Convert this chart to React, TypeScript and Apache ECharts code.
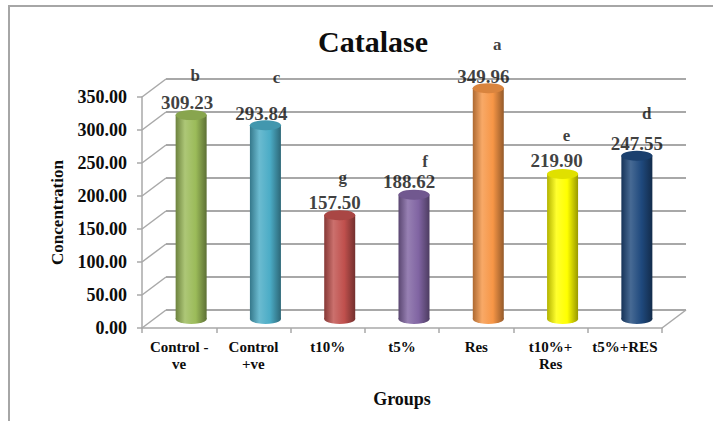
import React, { useEffect, useRef } from "react";
import * as echarts from "echarts";

const categories = ["Control -\nve", "Control\n+ve", "t10%", "t5%", "Res", "t10%+\nRes", "t5%+RES"];
const values = [309.23, 293.84, 157.5, 188.62, 349.96, 219.9, 247.55];
const sigLetters = ["b", "c", "g", "f", "a", "e", "d"];
const yTicks = [0, 50, 100, 150, 200, 250, 300, 350];
const barColors = ["#9BBB59", "#4BACC6", "#C0504D", "#8064A2", "#F79646", "#FFFF00", "#1F497D"];

// styling offsets (pixels) for annotation texts
const letterOffsets = [[4, -39], [11, -48], [3, -38], [11, -33], [9, -44], [4, -38], [10, -42]];
const valueOffsets = [[-4, -12], [-4, -12], [-5, -13], [-5, -13], [-5, -12], [-6, -13], [0, -12]];

const FONT = "'Liberation Serif', 'Times New Roman', serif";
const GRID_COLOR = "#A8A8A8";
const DEPTH_X = 24;
const DEPTH_Y = 18;

function shade(hex: string, amt: number): string {
  const n = parseInt(hex.slice(1), 16);
  let r = (n >> 16) & 255, g = (n >> 8) & 255, b = n & 255;
  const f = (c: number) => (amt >= 0 ? Math.round(c + (255 - c) * amt) : Math.round(c * (1 + amt)));
  r = f(r); g = f(g); b = f(b);
  return "#" + ((1 << 24) | (r << 16) | (g << 8) | b).toString(16).slice(1);
}

function cyl(c: string) {
  return new echarts.graphic.LinearGradient(0, 0, 1, 0, [
    { offset: 0, color: shade(c, -0.3) },
    { offset: 0.3, color: shade(c, 0.18) },
    { offset: 0.65, color: c },
    { offset: 1, color: shade(c, -0.4) },
  ]);
}

export default function App() {
  const ref = useRef<HTMLDivElement>(null);
  useEffect(() => {
    if (!ref.current) return;
    const chart = echarts.init(ref.current, undefined, { renderer: "svg" });
    const textBase = { fontFamily: FONT, fontWeight: "bold" as const, color: "#0d0d0d" };
    const option: any = {
      animation: false,
      backgroundColor: "#ffffff",
      title: {
        text: "Catalase",
        left: 368,
        top: 21,
        textAlign: "center",
        textStyle: { ...textBase, fontSize: 30 },
      },
      graphic: [
        {
          type: "rect",
          silent: true,
          shape: { x: 9, y: 6, width: 720, height: 430 },
          style: { fill: "none", stroke: "#A6A6A6", lineWidth: 2 },
        },
      ],
      grid: [
        { left: 142, top: 97, width: 520, height: 231 }, // front
        { left: 154, top: 88, width: 520, height: 231 }, // middle (bars)
        { left: 166, top: 79, width: 520, height: 231 }, // back wall
      ],
      xAxis: [
        {
          type: "category",
          gridIndex: 0,
          data: categories,
          axisLine: { show: true, lineStyle: { color: GRID_COLOR, width: 1.5 } },
          axisTick: { show: true, length: 5, lineStyle: { color: GRID_COLOR, width: 1.5 } },
          axisLabel: { ...textBase, fontSize: 15, lineHeight: 17, margin: 10, interval: 0 },
          name: "Groups",
          nameLocation: "middle",
          nameGap: 62,
          nameTextStyle: { ...textBase, fontSize: 18 },
        },
        { type: "category", gridIndex: 1, data: categories, show: false },
        { type: "category", gridIndex: 2, data: categories, show: false },
      ],
      yAxis: [
        {
          type: "value",
          gridIndex: 0,
          min: 0,
          max: 350,
          interval: 50,
          axisLine: { show: true, lineStyle: { color: GRID_COLOR, width: 1.5 } },
          axisTick: { show: true, length: 5, lineStyle: { color: GRID_COLOR, width: 1.5 } },
          splitLine: { show: false },
          axisLabel: { ...textBase, fontSize: 18, margin: 15, formatter: (v: number) => v.toFixed(2) },
          name: "Concentration",
          nameLocation: "middle",
          nameRotate: 90,
          nameGap: 76,
          nameTextStyle: { ...textBase, fontSize: 17 },
        },
        { type: "value", gridIndex: 1, min: 0, max: 350, interval: 50, show: false },
        {
          type: "value",
          gridIndex: 2,
          min: 0,
          max: 350,
          interval: 50,
          axisLine: { show: false },
          axisTick: { show: false },
          axisLabel: { show: false },
          splitLine: { show: true, lineStyle: { color: GRID_COLOR, width: 2 } },
        },
      ],
      series: [
        {
          type: "custom",
          xAxisIndex: 0,
          yAxisIndex: 0,
          silent: true,
          z: 1,
          encode: { x: 0, y: 1 },
          data: yTicks.map((t) => [0, t]),
          renderItem: (params: any, api: any) => {
            const cs = params.coordSys;
            const y = api.coord([0, api.value(1)])[1];
            const x0 = cs.x;
            const style = { stroke: GRID_COLOR, lineWidth: 1.5 };
            const children: any[] = [
              { type: "line", shape: { x1: x0, y1: y, x2: x0 + DEPTH_X, y2: y - DEPTH_Y }, style },
            ];
            if (api.value(1) === 0) {
              const x1 = cs.x + cs.width;
              children.push({ type: "line", shape: { x1: x0 + DEPTH_X, y1: y - DEPTH_Y, x2: x1 + DEPTH_X, y2: y - DEPTH_Y }, style });
              children.push({ type: "line", shape: { x1: x1, y1: y, x2: x1 + DEPTH_X, y2: y - DEPTH_Y }, style });
            }
            return { type: "group", children };
          },
        },
        {
          type: "bar",
          xAxisIndex: 1,
          yAxisIndex: 1,
          barWidth: 31,
          z: 3,
          silent: true,
          data: values.map((v, i) => ({ value: v, itemStyle: { color: cyl(barColors[i]) } })),
        },
        {
          type: "pictorialBar",
          xAxisIndex: 1,
          yAxisIndex: 1,
          symbol: "circle",
          symbolSize: [31, 10],
          symbolOffset: [0, "50%"],
          z: 2,
          silent: true,
          data: values.map((v, i) => ({ value: v, itemStyle: { color: cyl(barColors[i]) } })),
        },
        {
          type: "pictorialBar",
          xAxisIndex: 1,
          yAxisIndex: 1,
          symbol: "circle",
          symbolSize: [31, 10],
          symbolPosition: "end",
          symbolOffset: [0, "-50%"],
          z: 4,
          silent: true,
          data: values.map((v, i) => ({
            value: v,
            itemStyle: { color: shade(barColors[i], -0.12), borderColor: shade(barColors[i], -0.25), borderWidth: 0.5 },
          })),
        },
        {
          type: "scatter",
          xAxisIndex: 1,
          yAxisIndex: 1,
          symbolSize: 1,
          z: 6,
          silent: true,
          itemStyle: { color: "rgba(0,0,0,0)" },
          data: values.map((v, i) => ({
            value: [i, v],
            label: {
              show: true,
              position: "inside",
              offset: valueOffsets[i],
              formatter: () => v.toFixed(2),
              ...textBase,
              fontSize: 19,
            },
          })),
        },
        {
          type: "scatter",
          xAxisIndex: 1,
          yAxisIndex: 1,
          symbolSize: 1,
          z: 6,
          silent: true,
          itemStyle: { color: "rgba(0,0,0,0)" },
          data: values.map((v, i) => ({
            value: [i, v],
            label: {
              show: true,
              position: "inside",
              offset: letterOffsets[i],
              formatter: () => sigLetters[i],
              ...textBase,
              fontSize: 17,
            },
          })),
        },
      ],
    };
    chart.setOption(option);
    return () => chart.dispose();
  }, []);
  return (
    <div
      ref={ref}
      style={{ position: "fixed", left: 0, top: 0, width: 713, height: 421, background: "#fff" }}
    />
  );
}
